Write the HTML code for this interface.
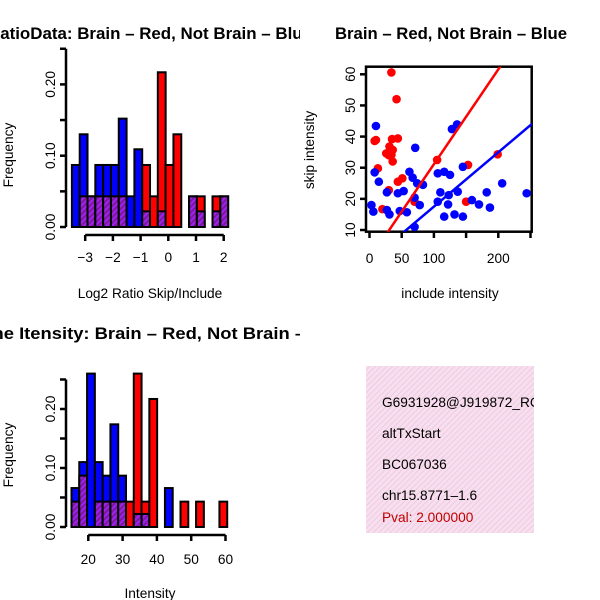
<!DOCTYPE html>
<html><head><meta charset="utf-8"><style>
body{margin:0;background:#fff}
svg{display:block;font-family:"Liberation Sans",sans-serif}
</style></head><body>
<svg id="s" width="600" height="600" xmlns="http://www.w3.org/2000/svg">
<defs>
<pattern id="pp" width="4" height="4" patternUnits="userSpaceOnUse" patternTransform="rotate(45)">
<rect width="4" height="4" fill="#a020f0"/><rect width="2" height="4" fill="#7a1a9a"/></pattern>
<pattern id="pk" width="4" height="4" patternUnits="userSpaceOnUse" patternTransform="rotate(45)">
<rect width="4" height="4" fill="#fbdcf4"/><rect width="1" height="4" fill="#e2d4d0"/></pattern>
<clipPath id="c1"><rect x="0" y="0" width="300" height="300"/></clipPath>
<clipPath id="c3"><rect x="0" y="300" width="300" height="300"/></clipPath>
<clipPath id="cs"><rect x="366" y="66.7" width="165.7" height="165"/></clipPath>
<clipPath id="cb"><rect x="366" y="366" width="168" height="167"/></clipPath>
</defs>
<g clip-path="url(#c1)"><text x="150" y="39" text-anchor="middle" font-size="16.8" font-weight="bold" textLength="324" lengthAdjust="spacingAndGlyphs">RatioData: Brain – Red, Not Brain – Blue</text></g>
<text x="451" y="39" text-anchor="middle" font-size="16.8" font-weight="bold" textLength="232" lengthAdjust="spacingAndGlyphs">Brain – Red, Not Brain – Blue</text>
<g clip-path="url(#c3)"><text x="159" y="339" text-anchor="middle" font-size="16.8" font-weight="bold" textLength="382" lengthAdjust="spacingAndGlyphs">Gene Itensity: Brain – Red, Not Brain – Blue</text></g>
<text x="150" y="298" text-anchor="middle" font-size="13.7">Log2 Ratio Skip/Include</text>
<text x="450" y="298" text-anchor="middle" font-size="13.7">include intensity</text>
<text x="150" y="598" text-anchor="middle" font-size="13.7">Intensity</text>
<text transform="translate(13,155) rotate(-90)" text-anchor="middle" font-size="13.7">Frequency</text>
<text transform="translate(13,455) rotate(-90)" text-anchor="middle" font-size="13.7">Frequency</text>
<text transform="translate(314,150) rotate(-90)" text-anchor="middle" font-size="13.7">skip intensity</text>
<g id="p1"></g><g id="p2"></g><g id="p3"></g>
<rect x="366" y="366" width="168" height="167" fill="url(#pk)"/>
<g clip-path="url(#cb)" font-size="13.7">
<text x="382" y="407">G6931928@J919872_RC</text>
<text x="382" y="438">altTxStart</text>
<text x="382" y="469">BC067036</text>
<text x="382" y="500">chr15.8771–1.6</text>
<text x="382" y="522" fill="#c00000">Pval: 2.000000</text>
</g>
</svg>
<script>
// Ratio histogram
const ratioStart=-3.48, ratioWidth=0.282;
const ratioBlue=[0.087,0.13,0.043,0.087,0.087,0.087,0.152,0.043,0.109,0.022,0,0.022,0,0,0,0.043,0.022,0,0.022,0.043];
const ratioRed=[0,0.043,0.043,0.043,0.043,0.043,0.043,0,0,0.087,0.043,0.217,0.087,0.13,0,0.043,0.043,0,0.043,0.043];
const ratioXTicks=[-3,-2,-1,0,1,2];
const ratioYTicks=[0,0.1,0.2];
// Intensity histogram
const intStart=15.1, intWidth=2.27;
const intBlue=[0.066,0.11,0.26,0.11,0.087,0.174,0.087,0,0.022,0.022,0,0,0.066,0,0,0,0,0,0,0];
const intRed=[0.043,0.087,0,0.043,0.043,0.043,0.043,0.043,0.26,0.043,0.217,0,0,0,0.043,0,0.043,0,0,0.043];
const intXTicks=[20,30,40,50,60];
const intYTicks=[0,0.1,0.2];
// Scatter
const redX=[34,42,10,8,35,44,31,36,26,34,36,13,44,51,30,20,70,105,153,199,150,30,32];
const redY=[60.6,52,38.9,38.6,39.2,39.4,36.8,35.7,34.6,34.1,32,29.8,25.5,26.6,22.8,16.7,19.1,32.5,30.9,34.3,19.1,34,35];
const blueX=[10,8,14.5,3,6,27,27,31,44,53,47,58,62,71,67,74,83,70,78,70,106,116,125,128,136,110,106,122,123,137,116,132,145,145,159,170,182,187,206,244];
const blueY=[43.4,28.5,25.5,18,15.9,22.1,16.4,15,21.8,22.5,16.1,15.7,28.7,36.4,26.8,25,24.5,20.4,18,11,28.2,28.7,27.7,42.4,43.9,22.1,19.1,18.2,21.2,22.3,14.3,15,14.3,30.3,19.6,18.2,22.1,17.2,25,21.8];
const redFit=[0.68,0.3045];   // intercept, slope
const blueFit=[0.05,0.1745];
const scXTicks=[0,50,100,150,200,250];
const scXLabels=["0","50","100","","200",""];
const scYTicks=[10,20,30,40,50,60];

const NS="http://www.w3.org/2000/svg";
function mk(p,t,a){const e=document.createElementNS(NS,t);for(const k in a)e.setAttribute(k,a[k]);p.appendChild(e);return e;}

function hist(g,start,w,blue,red,xs,yx,yb,yperunit,xticks,yticks,axY,labY){
  const n=blue.length;
  for(let i=0;i<n;i++){
    const b=blue[i],r=red[i];const hi=Math.max(b,r),lo=Math.min(b,r);
    if(hi<=0)continue;
    const x0=xs(start+i*w),x1=xs(start+(i+1)*w);
    const bar=mk(g,'rect',{x:x0,y:yb-hi*yperunit,width:x1-x0,height:hi*yperunit,fill:b>=r?'#0000ff':'#ff0000',stroke:'#000','stroke-width':2});
    
    
    if(lo>0){const ov=mk(g,'rect',{x:x0,y:yb-lo*yperunit,width:x1-x0,height:lo*yperunit,fill:'url(#pp)',stroke:'#000','stroke-width':2});
      
      }
  }
  const xa=mk(g,'g',{});
  
  
  mk(xa,'line',{x1:xs(xticks[0]),x2:xs(xticks[xticks.length-1]),y1:axY,y2:axY,stroke:'#000','stroke-width':2.5});
  xticks.forEach(t=>{mk(xa,'line',{x1:xs(t),x2:xs(t),y1:axY,y2:axY+6,stroke:'#000','stroke-width':2.5});
    const tx=mk(xa,'text',{x:xs(t),y:labY,'text-anchor':'middle','font-size':13.7});tx.textContent=String(t).replace('-','−');});
  const ya=mk(g,'g',{});
  
  
  const top=yb-(yticks[yticks.length-1]+0.05)*yperunit;
  mk(ya,'line',{x1:yx,x2:yx,y1:yb,y2:top,stroke:'#000','stroke-width':2.5});
  for(let v=0;v<=yticks[yticks.length-1]+0.051;v+=0.05){const y=yb-v*yperunit;mk(ya,'line',{x1:yx-6,x2:yx,y1:y,y2:y,stroke:'#000','stroke-width':2.5});}
  yticks.forEach(t=>{const y=yb-t*yperunit;const tx=mk(ya,'text',{transform:`translate(${yx-11},${y}) rotate(-90)`,'text-anchor':'middle','font-size':13.7});tx.textContent=t.toFixed(2);});
}
const g1=document.getElementById('p1');
hist(g1,ratioStart,ratioWidth,ratioBlue,ratioRed,v=>168.3+v*27.7,66,227,713,ratioXTicks,ratioYTicks,235,262);
const g3=document.getElementById('p3');
hist(g3,intStart,intWidth,intBlue,intRed,v=>88.3+(v-20)*3.43,66,527,590,intXTicks,intYTicks,535,564);

// scatter
const g2=document.getElementById('p2');
const sx=v=>369.5+v*0.644, sy=v=>230-(v-10)*3.114;
const fr=mk(g2,'rect',{x:366,y:66.7,width:165.7,height:165,fill:'none',stroke:'#000','stroke-width':2.5});


const pts=mk(g2,'g',{'clip-path':'url(#cs)'});


redX.forEach((x,i)=>{const c=mk(pts,'circle',{cx:sx(x),cy:sy(redY[i]),r:4.3,fill:'#ff0000'});
  
  });
blueX.forEach((x,i)=>{const c=mk(pts,'circle',{cx:sx(x),cy:sy(blueY[i]),r:4.3,fill:'#0000ff'});
  
  });
[[redFit,'#ff0000','red-fit-line'],[blueFit,'#0000ff','blue-fit-line']].forEach(([f,col,nm])=>{
  const l=mk(pts,'line',{x1:sx(-10),y1:sy(f[0]+f[1]*-10),x2:sx(300),y2:sy(f[0]+f[1]*300),stroke:col,'stroke-width':2.5});
  
  });
const sxa=mk(g2,'g',{});


scXTicks.forEach((t,i)=>{mk(sxa,'line',{x1:sx(t),x2:sx(t),y1:231.7,y2:238,stroke:'#000','stroke-width':2.5});
  const tx=mk(sxa,'text',{x:sx(t),y:263,'text-anchor':'middle','font-size':13.7});tx.textContent=scXLabels[i];});
const sya=mk(g2,'g',{});


scYTicks.forEach(t=>{mk(sya,'line',{x1:360,x2:366,y1:sy(t),y2:sy(t),stroke:'#000','stroke-width':2.5});
  const tx=mk(sya,'text',{transform:`translate(${355},${sy(t)}) rotate(-90)`,'text-anchor':'middle','font-size':13.7});tx.textContent=t;});
</script>
</body></html>
